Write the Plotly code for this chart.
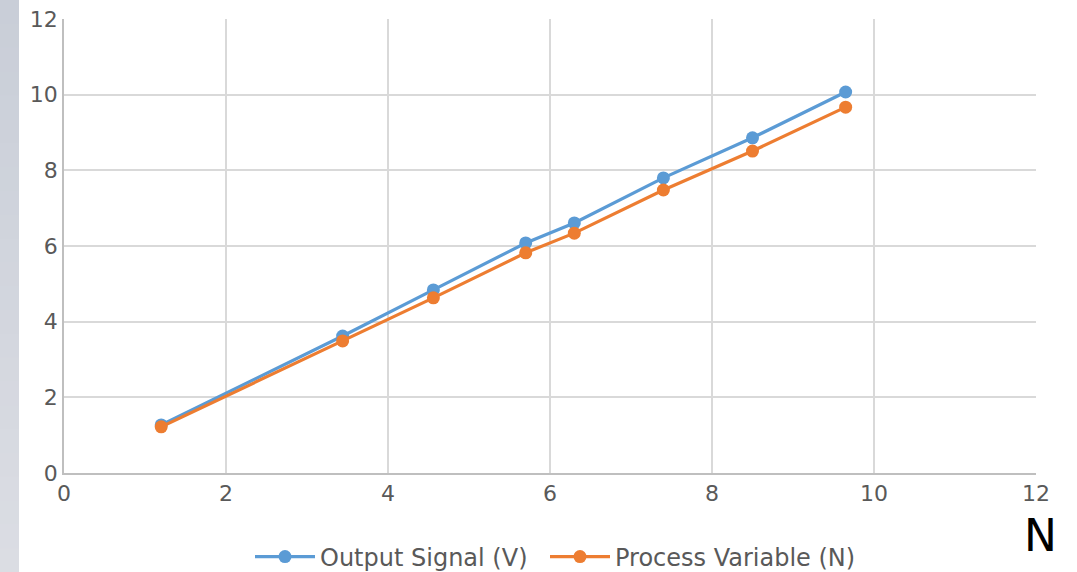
import plotly.graph_objects as go

# Measured readings
x_values = [1.2, 3.44, 4.56, 5.7, 6.3, 7.4, 8.5, 9.65]
output_signal_v = [1.27, 3.62, 4.84, 6.08, 6.61, 7.80, 8.86, 10.07]
process_variable_n = [1.22, 3.49, 4.63, 5.82, 6.34, 7.48, 8.51, 9.67]
tick_values = [0, 2, 4, 6, 8, 10, 12]

BLUE = "#5b9bd5"
ORANGE = "#ed7d31"
FONT = "DejaVu Sans"
W, H = 1077, 572

fig = go.Figure()
fig.add_trace(go.Scatter(
    x=x_values, y=output_signal_v, mode="lines+markers",
    name="Output Signal (V)", legendwidth=220,
    line=dict(color=BLUE, width=3.2),
    marker=dict(color=BLUE, size=13),
))
fig.add_trace(go.Scatter(
    x=x_values, y=process_variable_n, mode="lines+markers",
    name="Process Variable (N)", legendwidth=260,
    line=dict(color=ORANGE, width=3.2),
    marker=dict(color=ORANGE, size=13),
))

# Side strip on the left edge, shaded top to bottom
shapes = []
steps = 24
top = (201, 206, 216)
bottom = (219, 221, 227)
for i in range(steps):
    t = i / (steps - 1)
    c = tuple(round(top[k] + (bottom[k] - top[k]) * t) for k in range(3))
    shapes.append(dict(
        type="rect", xref="paper", yref="paper",
        x0=-1, x1=(19 - 64) / 972,
        y0=(473 - (i + 1) * H / steps) / 454 - 0.003,
        y1=(473 - i * H / steps) / 454 + (0.1 if i == 0 else 0),
        fillcolor="rgb(%d,%d,%d)" % c, line=dict(width=0), layer="below",
    ))

axis_style = dict(
    range=[0, 12], tickvals=tick_values, ticktext=[str(v) for v in tick_values],
    showgrid=True, gridcolor="#d9d9d9", gridwidth=1.5,
    showline=True, linecolor="#bfbfbf", linewidth=1.5,
    zeroline=False, ticks="", automargin=False,
    tickfont=dict(family=FONT, size=22, color="#595959"),
)

fig.update_layout(
    width=W, height=H,
    margin=dict(l=64, r=41, t=19, b=99),
    paper_bgcolor="white", plot_bgcolor="white",
    font=dict(family=FONT, color="#595959", size=22),
    shapes=shapes,
    showlegend=True,
    legend=dict(
        orientation="h", xref="container", yref="container",
        x=250 / W, xanchor="left", y=(H - 557) / H, yanchor="middle",
        font=dict(family=FONT, size=24, color="#595959"),
        itemwidth=60, entrywidthmode="pixels",
        traceorder="normal",
    ),
    xaxis=axis_style,
    yaxis=dict(axis_style),
    annotations=[dict(
        text="N", xref="paper", yref="paper",
        x=(1040 - 64) / 972, y=-(535 - 473) / 454, xanchor="center", yanchor="middle",
        showarrow=False, font=dict(family=FONT, size=44, color="black"),
    )],
)

fig.write_html("out.html")
